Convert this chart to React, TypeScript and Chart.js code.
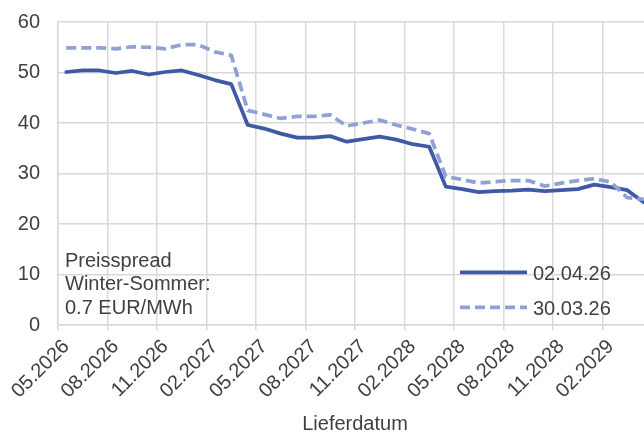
import React, { useEffect, useRef } from 'react';
import { Chart, registerables } from 'chart.js';

Chart.register(...registerables);

const months = [
  '05.2026', '06.2026', '07.2026', '08.2026', '09.2026', '10.2026', '11.2026', '12.2026',
  '01.2027', '02.2027', '03.2027', '04.2027', '05.2027', '06.2027', '07.2027', '08.2027',
  '09.2027', '10.2027', '11.2027', '12.2027', '01.2028', '02.2028', '03.2028', '04.2028',
  '05.2028', '06.2028', '07.2028', '08.2028', '09.2028', '10.2028', '11.2028', '12.2028',
  '01.2029', '02.2029', '03.2029', '04.2029',
];

const series020426 = [
  50.1, 50.4, 50.4, 49.9, 50.3, 49.6, 50.1, 50.4,
  49.5, 48.5, 47.7, 39.6, 38.9, 37.9, 37.1, 37.1,
  37.4, 36.3, 36.8, 37.3, 36.7, 35.8, 35.3, 27.4,
  26.9, 26.3, 26.5, 26.6, 26.8, 26.5, 26.7, 26.9,
  27.8, 27.3, 26.7, 24.3,
];

const series300326 = [
  54.9, 54.9, 54.9, 54.7, 55.1, 55.0, 54.7, 55.5,
  55.5, 54.1, 53.4, 42.5, 41.7, 40.9, 41.3, 41.3,
  41.6, 39.4, 40.0, 40.6, 39.6, 38.8, 37.9, 29.4,
  28.8, 28.1, 28.4, 28.6, 28.6, 27.5, 28.1, 28.6,
  29.0, 28.3, 25.2, 24.9,
];

const seriesNames = ['02.04.26', '30.03.26'];
const noteLines = ['Preisspread', 'Winter-Sommer:', '0.7 EUR/MWh'];
const xTitle = 'Lieferdatum';
const yMin = 0;
const yMax = 60;
const yStep = 10;
const labelEvery = 3;

const SOLID = '#4059a5';
const DASHED = '#8fa2d5';
const TEXT = '#404040';
const GRID = '#d9d9d9';
const FONT = '"Liberation Sans", Arial, sans-serif';

const overlayPlugin = {
  id: 'overlay',
  afterDatasetsDraw(chart: any) {
    const { ctx, chartArea } = chart;
    const { left, bottom } = chartArea;
    ctx.save();
    ctx.font = `20px ${FONT}`;
    ctx.fillStyle = TEXT;
    ctx.textAlign = 'left';
    ctx.textBaseline = 'alphabetic';
    noteLines.forEach((line, i) => {
      ctx.fillText(line, left + 7, bottom - 58 + i * 23.3);
    });
    const styles = [
      { color: SOLID, dash: [] as number[] },
      { color: DASHED, dash: [10, 5] },
    ];
    seriesNames.forEach((name, i) => {
      const y = bottom - 52.7 + i * 35;
      ctx.save();
      ctx.strokeStyle = styles[i].color;
      ctx.lineWidth = 3.75;
      ctx.setLineDash(styles[i].dash);
      ctx.lineCap = 'butt';
      ctx.beginPath();
      ctx.moveTo(left + 402, y);
      ctx.lineTo(left + 469, y);
      ctx.stroke();
      ctx.restore();
      ctx.fillStyle = TEXT;
      ctx.fillText(name, left + 475, y + 7.5);
    });
    ctx.restore();
  },
};

export default function App() {
  const ref = useRef<HTMLCanvasElement>(null);

  useEffect(() => {
    if (!ref.current) return;
    Chart.defaults.font.family = FONT;
    const chart = new Chart(ref.current, {
      type: 'line',
      data: {
        labels: months,
        datasets: [
          {
            label: seriesNames[0],
            data: series020426,
            borderColor: SOLID,
            borderWidth: 3.75,
            pointRadius: 0,
            tension: 0,
            borderJoinStyle: 'round',
            borderCapStyle: 'round',
            order: 1,
          },
          {
            label: seriesNames[1],
            data: series300326,
            borderColor: DASHED,
            borderWidth: 3.75,
            borderDash: [10, 5],
            pointRadius: 0,
            tension: 0,
            borderJoinStyle: 'round',
            order: 0,
          },
        ],
      },
      options: {
        responsive: false,
        animation: false,
        layout: { padding: { top: 22, right: 0, left: 0, bottom: 0 } },
        plugins: {
          legend: { display: false },
          tooltip: { enabled: false },
        },
        scales: {
          x: {
            type: 'category',
            offset: true,
            grid: {
              offset: true,
              color: (c: any) => (c.index !== undefined && c.index % labelEvery === 0 ? GRID : 'rgba(0,0,0,0)'),
              lineWidth: 1.5,
              tickLength: 5,
              drawTicks: true,
            },
            border: { display: true, color: GRID, width: 1.5 },
            ticks: {
              autoSkip: false,
              minRotation: 45,
              maxRotation: 45,
              padding: 5,
              color: TEXT,
              font: { size: 20 },
              callback: (_v: any, i: number) => (i % labelEvery === 0 ? months[i] : ''),
            },
            title: {
              display: true,
              text: xTitle,
              color: TEXT,
              font: { size: 20, lineHeight: 0.8 },
              padding: { top: 0, bottom: 0 },
            },
            afterFit: (s: any) => {
              s.height = 107;
              s.paddingLeft = 0;
              s.paddingRight = 0;
            },
          },
          y: {
            min: yMin,
            max: yMax,
            grid: { color: GRID, lineWidth: 1.5, drawTicks: false },
            border: { display: true, color: GRID, width: 1.5 },
            ticks: {
              stepSize: yStep,
              padding: 18,
              color: TEXT,
              font: { size: 20 },
            },
            afterFit: (s: any) => {
              s.width = 58;
              s.paddingTop = 0;
              s.paddingBottom = 0;
            },
          },
        },
      },
      plugins: [overlayPlugin],
    });
    return () => chart.destroy();
  }, []);

  return (
    <div
      style={{
        position: 'fixed',
        left: 0,
        top: 0,
        width: 644,
        height: 432,
        overflow: 'hidden',
        background: '#ffffff',
      }}
    >
      <canvas ref={ref} width={652} height={432} style={{ display: 'block', width: 652, height: 432 }} />
    </div>
  );
}
